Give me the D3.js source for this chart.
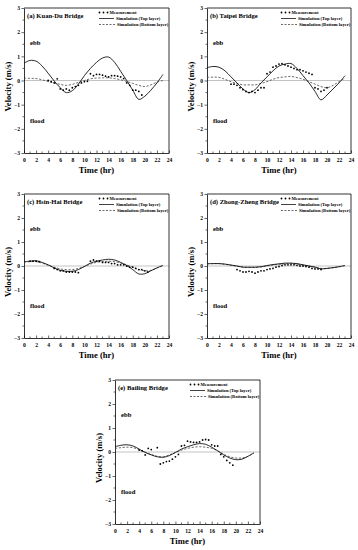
<!DOCTYPE html>
<html>
<head>
<meta charset="utf-8">
<script src="https://cdn.jsdelivr.net/npm/d3@7"></script>
<style>
  body { margin: 0; background: #fff; }
  svg { display: block; }
  text { font-family: "Liberation Serif", "DejaVu Serif", serif; font-weight: bold; fill: #000; }
</style>
</head>
<body>
<div id="wrap"></div>
<script>

const hours = d3.range(0, 24);   // 0..23 hr, simulation output
const xTicks = [0, 2, 4, 6, 8, 10, 12, 14, 16, 18, 20, 22, 24];
const yTicks = [-3, -2, -1, 0, 1, 2, 3];
const legendLabels = ["Measurement", "Simulation (Top layer)", "Simulation (Bottom layer)"];

// (a) Kuan-Du
const kuanduTop    = [0.72, 0.83, 0.80, 0.60, 0.30, -0.02, -0.30, -0.50, -0.42, -0.15, 0.20, 0.50, 0.75, 0.93, 0.97, 0.75, 0.38, 0.00, -0.40, -0.78, -0.65, -0.40, -0.10, 0.25];
const kuanduBottom = [0.10, 0.09, 0.08, 0.03, -0.04, -0.10, -0.16, -0.20, -0.16, -0.08, 0.00, 0.07, 0.10, 0.11, 0.11, 0.08, 0.03, -0.04, -0.12, -0.20, -0.25, -0.18, -0.07, 0.00];
const kuanduMeasT  = [4, 4.5, 5, 5.5, 6, 6.5, 7, 7.5, 8, 8.5, 9, 9.5, 10, 10.5, 11, 11.5, 12, 12.5, 13, 13.5, 14, 14.5, 15, 15.5, 16, 16.5, 17, 17.5, 18, 18.5, 19, 19.5];
const kuanduMeasV  = [0.00, -0.05, -0.10, 0.07, -0.35, -0.40, -0.35, -0.40, -0.30, -0.25, -0.20, -0.10, -0.05, -0.03, 0.28, 0.20, 0.25, 0.25, 0.22, 0.18, 0.15, 0.20, 0.20, 0.18, 0.15, 0.08, -0.10, -0.20, -0.40, -0.40, -0.45, -0.60];

// (b) Taipei
const taipeiTop    = [0.53, 0.58, 0.55, 0.40, 0.15, -0.10, -0.35, -0.50, -0.38, -0.10, 0.15, 0.40, 0.60, 0.68, 0.70, 0.50, 0.20, -0.10, -0.45, -0.80, -0.60, -0.35, -0.10, 0.20];
const taipeiBottom = [0.13, 0.14, 0.13, 0.05, -0.05, -0.12, -0.18, -0.18, -0.18, -0.12, -0.05, 0.05, 0.12, 0.15, 0.17, 0.12, 0.05, -0.05, -0.15, -0.25, -0.30, -0.20, -0.05, 0.10];
const taipeiMeasT  = [4, 4.5, 5, 5.5, 6, 6.5, 7, 7.5, 8, 8.5, 9, 9.5, 10, 10.5, 11, 11.5, 12, 12.5, 13, 13.5, 14, 14.5, 15, 15.5, 16, 16.5, 17, 17.5, 18, 18.5, 19, 19.5, 20];
const taipeiMeasV  = [-0.15, -0.15, -0.20, -0.30, -0.38, -0.45, -0.50, -0.45, -0.50, -0.40, -0.30, -0.30, 0.28, 0.35, 0.55, 0.60, 0.68, 0.70, 0.65, 0.60, 0.55, 0.50, 0.45, 0.45, 0.40, 0.35, 0.30, 0.25, -0.30, -0.35, -0.45, -0.40, -0.30];

// (c) Hsin-Hai
const hsinhaiTop    = [0.18, 0.20, 0.22, 0.15, 0.05, -0.08, -0.18, -0.22, -0.22, -0.15, -0.02, 0.12, 0.20, 0.25, 0.28, 0.25, 0.15, 0.02, -0.15, -0.33, -0.32, -0.20, -0.08, 0.03];
const hsinhaiBottom = [0.15, 0.18, 0.18, 0.12, 0.03, -0.05, -0.12, -0.15, -0.15, -0.10, -0.02, 0.08, 0.15, 0.18, 0.20, 0.18, 0.12, 0.05, -0.05, -0.15, -0.20, -0.18, -0.08, 0.00];
const hsinhaiMeasT  = [1, 1.5, 2, 2.5, 5, 5.5, 6, 6.5, 7, 7.5, 8, 8.5, 9, 11, 11.5, 12, 12.5, 13, 13.5, 14, 14.5, 15, 15.5, 16, 16.5, 17, 17.5, 18, 18.5, 19, 19.5, 20, 20.5];
const hsinhaiMeasV  = [0.20, 0.20, 0.20, 0.18, -0.10, -0.15, -0.20, -0.20, -0.25, -0.25, -0.25, -0.25, -0.28, 0.20, 0.25, 0.20, 0.20, 0.15, 0.15, 0.15, 0.10, 0.10, 0.05, 0.05, 0.05, 0.00, -0.05, -0.05, -0.10, -0.15, -0.15, -0.20, -0.25];

// (d) Zhong-Zheng
const zhongTop    = [0.10, 0.10, 0.10, 0.08, 0.04, 0.00, -0.05, -0.05, -0.05, -0.03, 0.02, 0.06, 0.09, 0.12, 0.12, 0.10, 0.05, 0.00, -0.05, -0.12, -0.10, -0.07, -0.03, 0.02];
const zhongBottom = [0.08, 0.10, 0.10, 0.07, 0.03, -0.01, -0.04, -0.06, -0.06, -0.04, 0.00, 0.04, 0.07, 0.09, 0.10, 0.08, 0.04, 0.00, -0.04, -0.10, -0.10, -0.07, -0.03, 0.02];
const zhongMeasT  = [5, 5.5, 6, 6.5, 7, 7.5, 8, 8.5, 9, 9.5, 10, 10.5, 11, 11.5, 12, 12.5, 13, 13.5, 14, 14.5, 15, 15.5, 16, 16.5, 17, 17.5, 18, 18.5, 19];
const zhongMeasV  = [-0.15, -0.20, -0.25, -0.25, -0.22, -0.25, -0.30, -0.25, -0.20, -0.20, -0.15, -0.12, -0.10, -0.05, -0.02, 0.02, 0.05, 0.05, 0.05, 0.05, 0.03, 0.00, 0.00, -0.02, -0.05, -0.10, -0.12, -0.12, -0.15];

// (e) Bailing
const bailingTop    = [0.22, 0.28, 0.30, 0.25, 0.12, -0.02, -0.12, -0.20, -0.22, -0.15, -0.02, 0.12, 0.22, 0.30, 0.35, 0.32, 0.20, 0.05, -0.12, -0.25, -0.32, -0.30, -0.18, -0.03];
const bailingBottom = [0.15, 0.18, 0.20, 0.18, 0.10, 0.00, -0.10, -0.18, -0.20, -0.12, -0.02, 0.08, 0.15, 0.20, 0.22, 0.20, 0.15, 0.05, -0.10, -0.20, -0.25, -0.25, -0.18, -0.05];
const bailingMeasT  = [4, 4.5, 5, 5.5, 6, 7, 7.5, 8, 8.5, 9, 9.5, 10, 10.5, 11, 11.5, 12, 12.5, 13, 13.5, 14, 14.5, 15, 15.5, 16, 16.5, 17, 17.5, 18, 18.5, 19, 19.5];
const bailingMeasV  = [0.08, 0.05, -0.12, 0.15, 0.10, 0.18, -0.50, -0.45, -0.40, -0.38, -0.30, -0.20, -0.10, 0.25, 0.28, 0.45, 0.42, 0.40, 0.40, 0.42, 0.50, 0.52, 0.50, 0.30, 0.25, 0.25, -0.10, -0.20, -0.35, -0.45, -0.55];

const panels = [
    {title: "(a) Kuan-Du Bridge",     top: kuanduTop,  bottom: kuanduBottom,  mt: kuanduMeasT,  mv: kuanduMeasV,  x: 24,  y: 8,   w: 145, h: 145},
    {title: "(b) Taipei Bridge",      top: taipeiTop,  bottom: taipeiBottom,  mt: taipeiMeasT,  mv: taipeiMeasV,  x: 207, y: 8,   w: 144, h: 145},
    {title: "(c) Hsin-Hai Bridge",    top: hsinhaiTop, bottom: hsinhaiBottom, mt: hsinhaiMeasT, mv: hsinhaiMeasV, x: 24,  y: 194, w: 145, h: 144},
    {title: "(d) Zhong-Zheng Bridge", top: zhongTop,   bottom: zhongBottom,   mt: zhongMeasT,   mv: zhongMeasV,   x: 207, y: 194, w: 144, h: 144},
    {title: "(e) Bailing Bridge",     top: bailingTop, bottom: bailingBottom, mt: bailingMeasT, mv: bailingMeasV, x: 115, y: 380, w: 145, h: 144},
];

const svg = d3.select("#wrap").append("svg")
    .attr("width", 358)
    .attr("height", 550);

function drawPanel(p) {
    const x = d3.scaleLinear().domain([0, 24]).range([p.x, p.x + p.w]);
    const y = d3.scaleLinear().domain([-3, 3]).range([p.y + p.h, p.y]);
    const g = svg.append("g");

    // zero line
    g.append("line")
        .attr("x1", x(0)).attr("x2", x(24))
        .attr("y1", y(0)).attr("y2", y(0))
        .attr("stroke", "#b4b4b4").attr("stroke-width", 0.8);

    // axes
    const xAxis = d3.axisBottom(x).tickValues(xTicks).tickFormat(d3.format("d"))
        .tickSizeInner(-2.5).tickSizeOuter(0).tickPadding(5);
    const gx = g.append("g").attr("transform", `translate(0,${p.y + p.h})`).call(xAxis);
    gx.selectAll("text").attr("font-size", 5.6).attr("font-family", "Liberation Serif").attr("font-weight", "bold");
    // minor x ticks
    g.append("g").selectAll("line")
        .data(d3.range(1, 24, 2))
        .join("line")
            .attr("x1", d => x(d)).attr("x2", d => x(d))
            .attr("y1", y(-3)).attr("y2", y(-3) - 1.5)
            .attr("stroke", "#000").attr("stroke-width", 0.6);

    const yAxis = d3.axisLeft(y).tickValues(yTicks).tickFormat(d3.format("d"))
        .tickSizeInner(2.5).tickSizeOuter(0).tickPadding(1.5);
    const gy = g.append("g").attr("transform", `translate(${p.x},0)`).call(yAxis);
    gy.selectAll("text").attr("font-size", 5.6).attr("font-family", "Liberation Serif").attr("font-weight", "bold");
    g.append("g").selectAll("line")
        .data(d3.range(-2.5, 3, 1))
        .join("line")
            .attr("x1", p.x - 1.5).attr("x2", p.x)
            .attr("y1", d => y(d)).attr("y2", d => y(d))
            .attr("stroke", "#000").attr("stroke-width", 0.6);

    g.selectAll(".domain").attr("stroke-width", 0.8);
    g.selectAll(".tick line").attr("stroke-width", 0.6);

    // top and right frame
    g.append("path")
        .attr("d", `M${x(0)},${y(3)}H${x(24)}V${y(-3)}`)
        .attr("fill", "none").attr("stroke", "#000").attr("stroke-width", 0.8);

    const line = d3.line()
        .x((d, i) => x(hours[i]))
        .y(d => y(d))
        .curve(d3.curveCatmullRom);

    g.append("path")
        .attr("d", line(p.bottom))
        .attr("fill", "none")
        .attr("stroke", "#444")
        .attr("stroke-width", 0.8)
        .attr("stroke-dasharray", "2.2,1.6");

    g.append("path")
        .attr("d", line(p.top))
        .attr("fill", "none")
        .attr("stroke", "#111")
        .attr("stroke-width", 0.9);

    g.append("g").selectAll("circle")
        .data(p.mt)
        .join("circle")
            .attr("cx", d => x(d))
            .attr("cy", (d, i) => y(p.mv[i]))
            .attr("r", 0.9)
            .attr("fill", "#000");

    // texts inside the frame
    g.append("text")
        .attr("x", p.x + 3).attr("y", p.y + 10)
        .attr("font-size", 6.6)
        .text(p.title);
    g.append("text")
        .attr("x", x(1)).attr("y", y(1.45))
        .attr("font-size", 6.6)
        .text("ebb");
    g.append("text")
        .attr("x", x(1)).attr("y", y(-1.75))
        .attr("font-size", 6.6)
        .text("flood");

    // legend
    const lx = p.x + p.w - 70;
    const ly = p.y + 4.5;
    const leg = g.append("g");
    leg.selectAll("circle")
        .data([0, 1, 2])
        .join("circle")
            .attr("cx", d => lx + 0.5 + d * 4)
            .attr("cy", ly)
            .attr("r", 0.9)
            .attr("fill", "#000");
    leg.append("line")
        .attr("x1", lx).attr("x2", lx + 15)
        .attr("y1", ly + 6).attr("y2", ly + 6)
        .attr("stroke", "#111").attr("stroke-width", 0.8);
    leg.append("line")
        .attr("x1", lx).attr("x2", lx + 16)
        .attr("y1", ly + 12).attr("y2", ly + 12)
        .attr("stroke", "#444").attr("stroke-width", 0.8)
        .attr("stroke-dasharray", "2,1.5");
    leg.selectAll("text")
        .data(legendLabels)
        .join("text")
            .attr("x", (d, i) => lx + [10.5, 17, 18][i])
            .attr("y", (d, i) => ly + 1.6 + i * 6)
            .attr("font-size", 4.6)
            .attr("font-weight", "normal")
            .text(d => d);

    // axis titles
    g.append("text")
        .attr("x", x(12)).attr("y", p.y + p.h + 20)
        .attr("text-anchor", "middle")
        .attr("font-size", 8.6)
        .text("Time (hr)");
    g.append("text")
        .attr("transform", `translate(${p.x - 13},${y(-0.25)}) rotate(-90)`)
        .attr("text-anchor", "middle")
        .attr("font-size", 8.6)
        .text("Velocity (m/s)");
}

panels.forEach(drawPanel);

</script>
</body>
</html>
